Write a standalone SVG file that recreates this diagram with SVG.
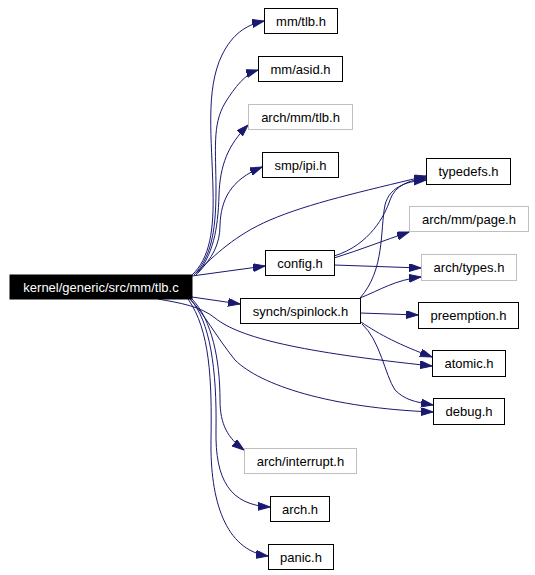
<svg xmlns="http://www.w3.org/2000/svg" width="535" height="575" viewBox="0 0 535 575">
<style>
.n rect{fill:#fff;stroke:#000;stroke-width:1}
.g rect{fill:#fff;stroke:#bfbfbf;stroke-width:1}
text{font-family:"Liberation Sans",Arial,sans-serif;font-size:13px;text-anchor:middle;fill:#000}
#edges path{fill:none;stroke:#191970;stroke-width:1;marker-end:url(#ah)}
</style>
<defs>
<marker id="ah" markerUnits="userSpaceOnUse" markerWidth="14" markerHeight="10" refX="12" refY="4" orient="auto">
<path d="M0,0 L12,4 L0,8 z" fill="#191970" stroke="#191970"/>
</marker>
</defs>
<rect width="535" height="575" fill="#fff"/>
<g id="edges">
<path d="M192,275 C210,258 214,230 213,190 C212,140 205,90 222,55 C232,35 245,25 264,21"/>
<path d="M194,275 C210,258 216,235 216,190 C216,150 212,125 225,103 C235,87 245,74 258,70"/>
<path d="M196,275 C213,255 218,230 219,195 C220,165 228,145 248,125"/>
<path d="M198,273 C212,258 220,245 220,225 C221,200 230,180 262,167"/>
<path d="M196,273 C215,255 235,235 270,220 C310,203 360,192 426,176"/>
<path d="M192,276 L265,266"/>
<path d="M192,297 L240,304"/>
<path d="M158,299 C180,303 200,306 215,318 C240,338 300,352 432,366"/>
<path d="M190,299 C205,315 215,335 235,360 C260,385 330,408 433,412"/>
<path d="M192,299 C212,320 220,360 220,400 C220,425 228,438 244,450"/>
<path d="M190,299 C210,320 217,370 216,430 C215,480 230,505 270,507"/>
<path d="M188,299 C210,330 212,380 211,440 C210,500 225,550 268,556"/>
<path d="M334,256 C370,245 385,215 390,200 C395,185 410,180 426,178"/>
<path d="M334,258 C360,250 385,240 409,232"/>
<path d="M334,265 L421,268"/>
<path d="M360,298 C385,270 380,230 385,205 C390,185 410,181 426,180"/>
<path d="M360,298 C380,290 395,280 421,277"/>
<path d="M360,313 L418,315"/>
<path d="M361,322 C380,335 400,345 432,357"/>
<path d="M362,324 C380,340 385,375 395,390 C405,400 415,402 433,405"/>
</g>
<g id="main"><rect x="10" y="275" width="182" height="24" fill="#000" stroke="#000"/><text x="101" y="291.5" style="fill:#fff">kernel/generic/src/mm/tlb.c</text></g>
<g id="mm_tlb" class="n"><rect x="264.5" y="8.5" width="73" height="25"/><text x="301" y="25.5">mm/tlb.h</text></g>
<g id="mm_asid" class="n"><rect x="258.5" y="56.5" width="84" height="25"/><text x="300.5" y="73.5">mm/asid.h</text></g>
<g id="arch_mm_tlb" class="g"><rect x="248.5" y="104.5" width="104" height="25"/><text x="300.5" y="121.5">arch/mm/tlb.h</text></g>
<g id="smp_ipi" class="n"><rect x="262.5" y="152.5" width="76" height="25"/><text x="300.5" y="169.5">smp/ipi.h</text></g>
<g id="config" class="n"><rect x="265.5" y="250.5" width="69" height="25"/><text x="300" y="267.5">config.h</text></g>
<g id="spinlock" class="n"><rect x="240.5" y="298.5" width="120" height="25"/><text x="300.5" y="315.5">synch/spinlock.h</text></g>
<g id="arch_interrupt" class="g"><rect x="244.5" y="448.5" width="112" height="25"/><text x="300.5" y="465.5">arch/interrupt.h</text></g>
<g id="arch" class="n"><rect x="270.5" y="496.5" width="59" height="25"/><text x="300" y="513.5">arch.h</text></g>
<g id="panic" class="n"><rect x="268.5" y="544.5" width="65" height="25"/><text x="301" y="561.5">panic.h</text></g>
<g id="typedefs" class="n"><rect x="426.5" y="158.5" width="84" height="26"/><text x="468.5" y="176">typedefs.h</text></g>
<g id="arch_mm_page" class="g"><rect x="409.5" y="206.5" width="119" height="25"/><text x="469" y="223.5">arch/mm/page.h</text></g>
<g id="arch_types" class="g"><rect x="421.5" y="254.5" width="95" height="26"/><text x="469" y="272">arch/types.h</text></g>
<g id="preemption" class="n"><rect x="418.5" y="302.5" width="100" height="26"/><text x="468.5" y="320">preemption.h</text></g>
<g id="atomic" class="n"><rect x="432.5" y="350.5" width="73" height="26"/><text x="469" y="368">atomic.h</text></g>
<g id="debug" class="n"><rect x="433.5" y="398.5" width="71" height="26"/><text x="469" y="416">debug.h</text></g>
</svg>
